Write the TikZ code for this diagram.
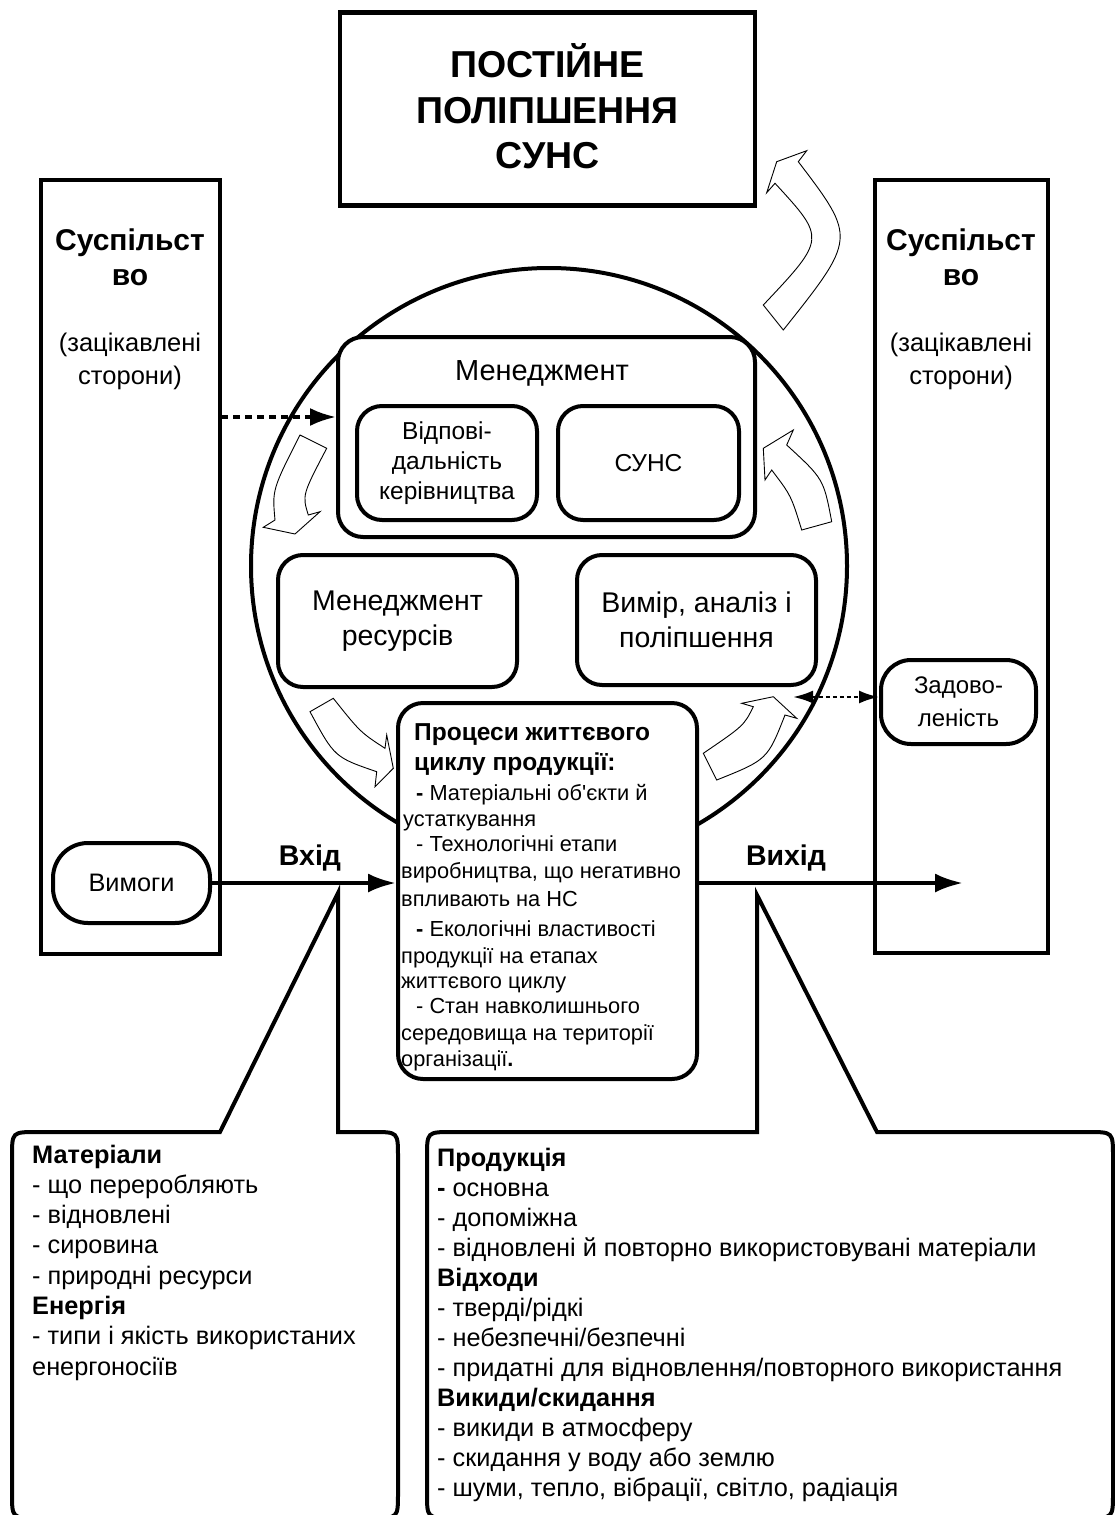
\documentclass[tikz,border=0pt]{standalone}
\usepackage{fontspec}
\setmainfont{Liberation Sans}
\usetikzlibrary{arrows.meta}
\newcommand\fsz[2]{\fontsize{#1}{#2}\selectfont}
\begin{document}
\begin{tikzpicture}[x=1pt,y=-1pt,
  box/.style={draw,line width=4pt,fill=white,inner sep=0pt,align=center},
  rbox/.style={box,rounded corners=25pt},
  txt/.style={inner sep=0pt,anchor=base west},
  ttl/.style={inner sep=0pt,anchor=base,font=\bfseries\fsz{37.5}{45}},
  barrow/.style={draw,fill=white,line width=0.9pt,line join=miter},
  callout/.style={draw,line width=4pt,line join=miter},
  thickarrow/.style={line width=4pt,-{Latex[length=28pt,width=19pt]}},
  dasharrow/.style={line width=3.5pt,dash pattern=on 7pt off 5pt,-{Latex[length=26pt,width=18pt]}},
  dotarrow/.style={line width=2.5pt,dash pattern=on 4pt off 3pt,{Latex[length=20pt,width=13pt]}-{Latex[length=20pt,width=13pt]}}]
\useasboundingbox (0,0) rectangle (1115,1515);

% top box
\node[box,line width=4.5pt,minimum width=415pt,minimum height=193pt] (top) at (547.5,109) {};
\node[ttl] (t1) at (547.5,77.5) {ПОСТІЙНЕ};
\node[ttl] (t2) at (547.5,123) {ПОЛІПШЕННЯ};
\node[ttl] (t3) at (547.5,168.5) {СУНС};

% society boxes
\node[box,minimum width=179pt,minimum height=774pt] (lsoc) at (130.5,567) {};
\node[box,minimum width=173pt,minimum height=773pt] (rsoc) at (961.5,566.5) {};
\node[font=\bfseries\fsz{30}{35},align=center,inner sep=0pt] (lsoct) at (130,257) {Суспільст\\во};
\node[font=\fsz{25.5}{33},align=center,inner sep=0pt] (lsocs) at (130,361) {(зацікавлені\\сторони)};
\node[font=\bfseries\fsz{30}{35},align=center,inner sep=0pt] (rsoct) at (961,257) {Суспільст\\во};
\node[font=\fsz{25.5}{33},align=center,inner sep=0pt] (rsocs) at (961,361) {(зацікавлені\\сторони)};

% big circle
\node[circle,draw,line width=4pt,minimum size=596pt,inner sep=0pt] (circ) at (549,566) {};

% management
\node[rbox,minimum width=417pt,minimum height=200pt] (mgmt) at (546.5,437) {};
\node[font=\fsz{29}{30},inner sep=0pt] (mgmtt) at (542,373) {Менеджмент};
\node[rbox,minimum width=180pt,minimum height=114pt,font=\fsz{24.5}{30}] (resp) at (447,463) {Відпові-\\дальність\\керівництва};
\node[rbox,minimum width=181pt,minimum height=114pt,font=\fsz{24.5}{30}] (suns) at (648.5,463) {СУНС};
\node[rbox,minimum width=239pt,minimum height=132pt,font=\fsz{28.5}{35}] (res) at (397.5,621) {Менеджмент\\ресурсів};
\node[rbox,minimum width=239pt,minimum height=130pt,font=\fsz{28.5}{35}] (meas) at (696.5,620) {Вимір, аналіз і\\поліпшення};

% process box
\node[rbox,minimum width=299pt,minimum height=376pt] (proc) at (547.5,891) {};
\node[txt,font=\bfseries\fsz{24.5}{28}] (p1) at (414,740) {Процеси життєвого};
\node[txt,font=\bfseries\fsz{24.5}{28}] (p2) at (414,770) {циклу продукції:};
\node[txt,font=\fsz{21.8}{24}] (p3) at (416,800) {\textbf{-} Матеріальні об\textquotesingle єкти й};
\node[txt,font=\fsz{21.8}{24}] (p4) at (403,826) {устаткування};
\node[txt,font=\fsz{21.8}{24}] (p5) at (416,851) {- Технологічні етапи};
\node[txt,font=\fsz{21.8}{24}] (p6) at (401,878) {виробництва, що негативно};
\node[txt,font=\fsz{21.8}{24}] (p7) at (401,906) {впливають на НС};
\node[txt,font=\fsz{21.8}{24}] (p8) at (416,936) {\textbf{-} Екологічні властивості};
\node[txt,font=\fsz{21.8}{24}] (p9) at (401,963) {продукції на етапах};
\node[txt,font=\fsz{21.8}{24}] (p10) at (401,988) {життєвого циклу};
\node[txt,font=\fsz{21.8}{24}] (p11) at (416,1013) {- Стан навколишнього};
\node[txt,font=\fsz{21.8}{24}] (p12) at (401,1040) {середовища на території};
\node[txt,font=\fsz{21.8}{24}] (p13) at (401,1066) {організації\textbf{.}};

% requirements and satisfaction
\node[box,rounded corners=35pt,minimum width=157pt,minimum height=80pt,font=\fsz{25.3}{28}] (vym) at (131.5,883) {Вимоги};
\node[box,rounded corners=30pt,minimum width=155pt,minimum height=84pt,font=\fsz{24}{33}] (sat) at (958.5,702) {Задово-\\леність};

% arrows
\coordinate (dashS) at (221,417);
\draw[dasharrow] (dashS) -- (mgmt.west |- dashS);
\coordinate (satS) at (793,697);
\draw[dotarrow] (satS) -- (sat.west |- satS);
\draw[thickarrow] (vym.east) -- (proc.west |- vym.east);
\coordinate (vyhE) at (963,883);
\draw[thickarrow] (proc.east |- vyhE) -- (vyhE);
\node[font=\bfseries\fsz{28.5}{30},inner sep=0pt] (vhid) at (310,858) {Вхід};
\node[font=\bfseries\fsz{28.5}{30},inner sep=0pt] (vyhid) at (786,858) {Вихід};

% curved block arrows
\draw[barrow] (763.3,305) -- (783.3,330) .. controls (856.4,238.1) .. (798.3,161.7) -- (806.7,150.7) -- (776.7,161.7) -- (766.7,192.7) -- (775,183.3) .. controls (825.9,238.6) .. (763.3,305) -- cycle;
\draw[barrow] (300,435) -- (326.7,448.3) .. controls (302.2,495.1) .. (308.3,515) -- (320,511.7) -- (295,534) -- (263.3,527.3) -- (275,520) .. controls (272.2,489.7) .. (300,435) -- cycle;
\draw[barrow] (310,711.7) -- (333.3,698.3) .. controls (360.3,732.2) .. (385,748.3) -- (386.7,735) -- (393.3,768.3) -- (375,786.7) -- (376.7,771.7) .. controls (334.5,757.2) .. (310,711.7) -- cycle;
\draw[barrow] (716.7,780) -- (703.3,753.3) .. controls (743.9,725.6) .. (753.3,706.7) -- (741.7,703.3) -- (773.3,696.7) -- (796.7,718.3) -- (785,715) .. controls (767.4,759.7) .. (716.7,780) -- cycle;
\draw[barrow] (801.7,530) -- (831.7,521.7) .. controls (823.6,478.9) .. (786.7,445) -- (793.3,430) -- (763.3,448.3) -- (765,480) -- (771.7,470) .. controls (791.1,495.6) .. (801.7,530) -- cycle;

% callouts
\draw[callout] (220,1132) -- (338,893) -- (338,1132) -- (373,1132) .. controls (398,1132) .. (398,1157) -- (398,1493) .. controls (398,1518) .. (373,1518) -- (37,1518) .. controls (12,1518) .. (12,1493) -- (12,1157) .. controls (12,1132) .. (37,1132) -- cycle;
\draw[callout] (757,1132) -- (757,895) -- (877,1132) -- (1088,1132) .. controls (1113,1132) .. (1113,1157) -- (1113,1493) .. controls (1113,1518) .. (1088,1518) -- (452,1518) .. controls (427,1518) .. (427,1493) -- (427,1157) .. controls (427,1132) .. (452,1132) -- cycle;

\foreach \t [count=\i] in {\textbf{Матеріали}, - що переробляють, - відновлені, - сировина, - природні ресурси, \textbf{Енергія}, - типи і якість використаних, енергоносіїв}
  \node[txt,font=\fsz{25.3}{28}] (lc\i) at (32,{1163+30.3*(\i-1)}) {\t};
\foreach \t [count=\i] in {\textbf{Продукція}, \textbf{-} основна, - допоміжна, - відновлені й повторно використовувані матеріали, \textbf{Відходи}, - тверді/рідкі, - небезпечні/безпечні, - придатні для відновлення/повторного використання, \textbf{Викиди/скидання}, - викиди в атмосферу, - скидання у воду або землю, {- шуми, тепло, вібрації, світло, радіація}}
  \node[txt,font=\fsz{25.3}{28}] (rc\i) at (437,{1166+30*(\i-1)}) {\t};
\end{tikzpicture}
\end{document}
